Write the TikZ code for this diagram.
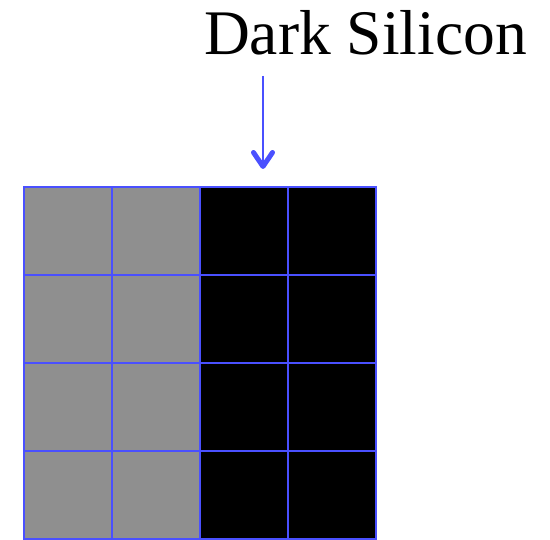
\documentclass[tikz,border=0pt]{standalone}
\usepackage{fontspec}
\setmainfont{Liberation Serif}
\usetikzlibrary{arrows.meta}
\definecolor{gridblue}{HTML}{4A50FF}
\definecolor{litgray}{HTML}{8F8F8F}
\tikzset{
  cell/.style={draw=gridblue, line width=2.4pt, minimum size=88pt, inner sep=0pt, outer sep=0pt},
  lit/.style={cell, fill=litgray},
  dark/.style={cell, fill=black},
  pointer/.style={draw=gridblue, line width=2pt, -{Straight Barb[length=14pt,width=19pt,line width=5pt,line cap=round,line join=round]}}
}
\begin{document}
\begin{tikzpicture}[x=1pt,y=-1pt]
\useasboundingbox (0,0) rectangle (550,540);
\node[font=\fontsize{63.5}{63.5}\selectfont, anchor=base, inner sep=0pt] (title) at (365.5,55) {Dark Silicon};
\coordinate (pstart) at (263,76);
\coordinate (pend) at (263,169);
\draw[pointer] (pstart) -- (pend);
\foreach \r in {0,1,2,3}{
  \foreach \c in {0,1}{
    \node[lit] (c\r\c) at ({68+88*\c},{231+88*\r}) {};
  }
  \foreach \c in {2,3}{
    \node[dark] (c\r\c) at ({68+88*\c},{231+88*\r}) {};
  }
}
\foreach \r in {0,1,2,3}{
  \foreach \c in {0,1,2,3}{
    \draw[gridblue, line width=2.4pt] (c\r\c.north west) rectangle (c\r\c.south east);
  }
}
\end{tikzpicture}
\end{document}
